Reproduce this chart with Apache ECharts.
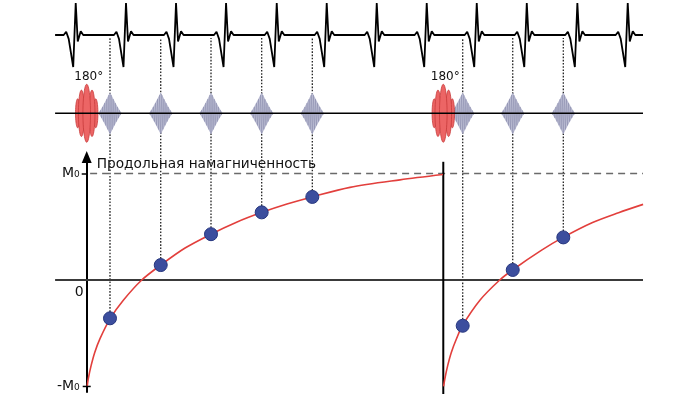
<!DOCTYPE html>
<html><head><meta charset="utf-8">
<script src="https://cdn.jsdelivr.net/npm/echarts@6/dist/echarts.min.js"></script>
<style>html,body{margin:0;padding:0;background:#fff}#c{width:700px;height:394px}</style>
</head><body><div id="c"></div>
<script>
// time in ms, t = 0 at the first 180° inversion pulse
const rPeakTimes = [-219, 783, 1780, 2777, 3787, 4783, 5780, 6776, 7773, 8770, 9778, 10782];
const beatShapeDt  = [-240, -190, -140, -50, 0, 40, 100, 150];
const beatShapeAmp = [0, 0.1, -0.12, -1.0, 1.0, -0.2, 0.12, 0];
const traceStart = -630, traceEnd = 11086;
const inversionTimes = [0, 7106];
const inversionLabel = '180°';
const readoutTimes = [464, 1475, 2477, 3487, 4496, 7493, 8490, 9498];
const readoutM     = [-0.36, 0.14, 0.43, 0.635, 0.78, -0.43, 0.094, 0.40];
const recovery1T = [10, 30, 90, 160, 265, 470, 730, 1097, 1475, 1960, 2477, 2975, 3493, 3991, 4490, 5247, 6244, 7100];
const recovery1M = [-1.0, -0.93, -0.8, -0.68, -0.55, -0.36, -0.19, 0, 0.14, 0.30, 0.43, 0.54, 0.635, 0.713, 0.78, 0.87, 0.94, 0.99];
const recovery2T = [7112, 7136, 7196, 7266, 7371, 7486, 7836, 8231, 8486, 9066, 9493, 10081, 10599, 11088];
const recovery2M = [-1.0, -0.93, -0.8, -0.68, -0.55, -0.43, -0.19, 0, 0.094, 0.28, 0.40, 0.54, 0.632, 0.71];
const m0LineStart = 68;
const yTickValues = [-1, 0, 1];
const yTickLabels = ['-M₀', '0', 'M₀'];
const yAxisTitle = 'Продольная намагниченность';

const X_MIN = -1728, X_MAX = 12222;
const FONT = '"DejaVu Sans", Verdana, sans-serif';

const ecg = [[traceStart, 0]];
rPeakTimes.forEach(r => beatShapeDt.forEach((d, i) => ecg.push([r + d, beatShapeAmp[i]])));
ecg.push([traceEnd, 0]);

function ellipsePts(cx, cy, rx, ry) {
  const p = [];
  for (let i = 0; i < 48; i++) { const a = i / 48 * 2 * Math.PI; p.push([cx + rx * Math.cos(a), cy + ry * Math.sin(a)]); }
  return p;
}
function renderInversion(params, api) {
  const c = api.coord([api.value(0), 0]);
  const H = api.size([0, 1])[1];
  const lobes = [[-9, 0.5, 2.2], [9, 0.5, 2.2], [-5.3, 0.8, 3], [5.3, 0.8, 3], [0, 1, 3.8]];
  const children = lobes.map(([dx, a, rx]) => ({
    type: 'polygon', shape: { points: ellipsePts(c[0] + dx, c[1], rx, a * H) },
    style: { fill: '#ec6565', stroke: '#c83b3b', lineWidth: 0.8 }
  }));
  children.push({ type: 'text', style: { text: inversionLabel, x: c[0] + 2, y: c[1] - H - 1, align: 'center', verticalAlign: 'bottom', font: '12px ' + FONT, fill: '#111' } });
  return { type: 'group', children };
}
function renderReadout(params, api) {
  const c = api.coord([api.value(0), 0]);
  const H = api.size([0, 1])[1] * 0.7;
  const w = 11.5;
  const env = u => Math.pow(1 - Math.abs(u), 1.15);
  const top = [], bot = [], zig = [];
  for (let i = 0; i <= 40; i++) { const u = -1 + i / 20; top.push([c[0] + u * w, c[1] - env(u) * H]); bot.unshift([c[0] + u * w, c[1] + env(u) * H]); }
  for (let i = 0; i < 23; i++) { const u = -1 + 2 * i / 22; zig.push([c[0] + u * w, c[1] + (i % 2 ? 1 : -1) * env(u) * H]); }
  return { type: 'group', children: [
    { type: 'polygon', shape: { points: top.concat(bot) }, style: { fill: '#bfc1d6', stroke: '#a3a5c2', lineWidth: 0.6 } },
    { type: 'polyline', shape: { points: zig }, style: { fill: null, stroke: '#8f91b0', lineWidth: 0.6 } }
  ] };
}
function renderTickLabel(params, api) {
  const v = api.value(0);
  const p = api.coord([0, v]);
  const s = yTickLabels[params.dataIndex];
  return { type: 'text', style: { text: s, x: p[0] - (v === 0 ? 3 : 7), y: p[1] + (v === 0 ? 12 : 0), align: 'right', verticalAlign: 'middle', font: '14px ' + FONT, fill: '#111' } };
}
function renderCrossTick(params, api) {
  const p = api.coord([0, api.value(0)]);
  return { type: 'line', shape: { x1: p[0] - 4, y1: p[1], x2: p[0] + 4, y2: p[1] }, style: { stroke: '#000', lineWidth: 1.5 } };
}

const chart = echarts.init(document.getElementById('c'));
const grids = [
  { left: 0, right: 0, top: 3, height: 64, outerBoundsMode: 'none' },
  { left: 0, right: 0, top: 84.3, height: 58, outerBoundsMode: 'none' },
  { left: 0, right: 0, top: 157, bottom: 2, outerBoundsMode: 'none' }
];
const option = {
  animation: false,
  backgroundColor: '#fff',
  grid: grids,
  xAxis: [0, 1, 2].map(i => ({ gridIndex: i, type: 'value', min: X_MIN, max: X_MAX, show: false })),
  yAxis: [
    { gridIndex: 0, type: 'value', min: -1, max: 1, show: false },
    { gridIndex: 1, type: 'value', min: -1, max: 1, show: false },
    { gridIndex: 2, type: 'value', min: -1.052, max: 1.155,
      axisLine: { show: true, onZero: true, symbol: ['none', 'triangle'], symbolSize: [10, 12], lineStyle: { color: '#000', width: 2 } },
      axisTick: { show: true, customValues: [1], length: 5, lineStyle: { color: '#000', width: 1.5 } },
      axisLabel: { show: false },
      splitLine: { show: false },
      name: yAxisTitle, nameLocation: 'end', nameGap: -7,
      nameTextStyle: { align: 'left', verticalAlign: 'middle', padding: [0, 0, 0, 10], fontSize: 13.7, fontFamily: FONT, color: '#111' }
    }
  ],
  series: [
    { type: 'line', xAxisIndex: 0, yAxisIndex: 0, data: ecg, showSymbol: false, clip: false, lineStyle: { color: '#000', width: 1.8 }, z: 2 },
    { id: 'guides', type: 'custom', xAxisIndex: 2, yAxisIndex: 2, data: [], renderItem: () => null, z: 1 },
    { type: 'custom', xAxisIndex: 1, yAxisIndex: 1, data: readoutTimes.map(t => [t, 0]), renderItem: renderReadout, clip: false, z: 3 },
    { type: 'custom', xAxisIndex: 1, yAxisIndex: 1, data: inversionTimes.map(t => [t, 0]), renderItem: renderInversion, clip: false, z: 3 },
    { type: 'line', xAxisIndex: 1, yAxisIndex: 1, data: [[traceStart, 0], [traceEnd, 0]], showSymbol: false, clip: false, lineStyle: { color: '#000', width: 1.5 }, z: 4 },
    { type: 'line', xAxisIndex: 2, yAxisIndex: 2, data: [[traceStart, 0], [traceEnd, 0]], showSymbol: false, clip: false, lineStyle: { color: '#3a3a3a', width: 2 }, z: 2 },
    { type: 'line', xAxisIndex: 2, yAxisIndex: 2, data: [[m0LineStart, 1], [traceEnd, 1]], showSymbol: false, clip: false, lineStyle: { color: '#6a6a6a', width: 1.5, type: [7, 5] }, z: 2 },
    ...inversionTimes.slice(1).map(t => ({ type: 'line', xAxisIndex: 2, yAxisIndex: 2, data: [[t, 1.11], [t, -1.1]], showSymbol: false, clip: false, lineStyle: { color: '#000', width: 2 }, z: 2 })),
    { type: 'line', xAxisIndex: 2, yAxisIndex: 2, data: recovery1T.map((t, i) => [t, recovery1M[i]]), smooth: 0.3, showSymbol: false, clip: false, lineStyle: { color: '#e23f3c', width: 1.6 }, z: 3 },
    { type: 'line', xAxisIndex: 2, yAxisIndex: 2, data: recovery2T.map((t, i) => [t, recovery2M[i]]), smooth: 0.3, showSymbol: false, clip: false, lineStyle: { color: '#e23f3c', width: 1.6 }, z: 3 },
    { type: 'scatter', xAxisIndex: 2, yAxisIndex: 2, data: readoutTimes.map((t, i) => [t, readoutM[i]]), symbolSize: 13, clip: false,
      itemStyle: { color: '#3c4e9e', borderColor: '#27377f', borderWidth: 1, opacity: 1 }, z: 5 },
    { type: 'custom', xAxisIndex: 2, yAxisIndex: 2, data: yTickValues.map(v => [v]), encode: { y: 0 }, renderItem: renderTickLabel, clip: false, z: 6 },
    { type: 'custom', xAxisIndex: 2, yAxisIndex: 2, data: [[-1]], encode: { y: 0 }, renderItem: renderCrossTick, clip: false, z: 6 }
  ]
};
chart.setOption(option);

// readout guides: from ECG baseline down to each readout point
const baseY = chart.convertToPixel({ xAxisIndex: 0, yAxisIndex: 0 }, [0, 0])[1] + 3;
const guideTopM = chart.convertFromPixel({ xAxisIndex: 2, yAxisIndex: 2 }, [0, baseY])[1];
chart.setOption({ series: [{ id: 'guides', data: readoutTimes.map((t, i) => [t, readoutM[i]]), clip: false,
  renderItem: (params, api) => {
    const a = api.coord([api.value(0), api.value(1)]);
    const b = api.coord([api.value(0), guideTopM]);
    return { type: 'line', shape: { x1: a[0], y1: a[1], x2: b[0], y2: b[1] }, style: { stroke: '#222', lineWidth: 1.3, lineDash: [1.6, 1.6] } };
  } }] });
</script></body></html>
